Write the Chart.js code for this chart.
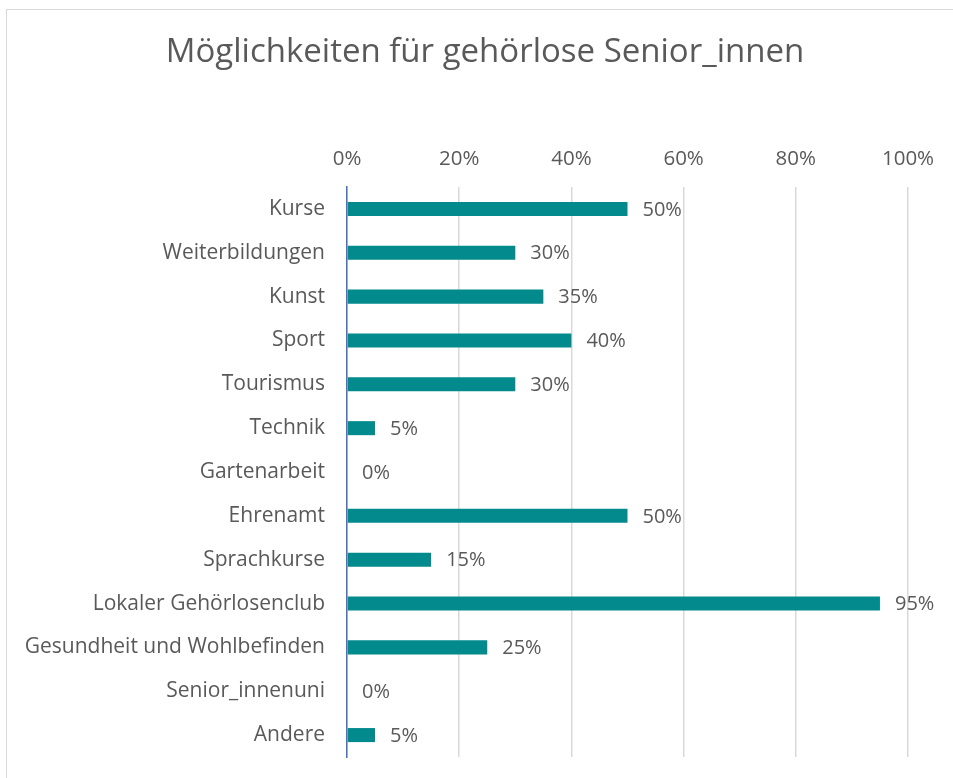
<!DOCTYPE html>
<html>
<head>
<meta charset="utf-8">
<script src="https://cdn.jsdelivr.net/npm/chart.js@4"></script>
<style>
  html, body { margin: 0; padding: 0; background: #fff; overflow: hidden; }
  #frame { position: absolute; left: 6px; top: 9px; width: 1000px; height: 900px; border: 1.5px solid #d9d9d9; box-sizing: border-box; }
  #wrap { position: absolute; left: 0; top: 0; width: 953px; height: 778px; }
</style>
</head>
<body>
<div id="frame"></div>
<div id="wrap"><canvas id="c" width="953" height="778"></canvas></div>
<script>
const categories = ["Kurse", "Weiterbildungen", "Kunst", "Sport", "Tourismus", "Technik", "Gartenarbeit", "Ehrenamt", "Sprachkurse", "Lokaler Gehörlosenclub", "Gesundheit und Wohlbefinden", "Senior_innenuni", "Andere"];
const values = [50, 30, 35, 40, 30, 5, 0, 50, 15, 95, 25, 0, 5];
const tickValues = [0, 20, 40, 60, 80, 100];
const titleText = "Möglichkeiten für gehörlose Senior_innen";

const FONT = "'Open Sans', Lato, sans-serif";
const TEXT = "#595959";

const labelPlugin = {
  id: 'valueLabels',
  afterDatasetsDraw(chart) {
    const ctx = chart.ctx;
    const meta = chart.getDatasetMeta(0);
    ctx.save();
    ctx.font = "20px " + FONT;
    ctx.fillStyle = TEXT;
    ctx.textAlign = "left";
    ctx.textBaseline = "middle";
    meta.data.forEach((bar, i) => {
      ctx.fillText(values[i] + "%", bar.x + 15, bar.y + 1);
    });
    ctx.restore();
  }
};

const titlePlugin = {
  id: 'centeredTitle',
  afterDraw(chart) {
    const ctx = chart.ctx;
    ctx.save();
    ctx.font = "33px " + FONT;
    ctx.fillStyle = TEXT;
    ctx.textAlign = "center";
    ctx.textBaseline = "middle";
    ctx.fillText(titleText, 485, 53);
    ctx.restore();
  }
};

new Chart(document.getElementById('c'), {
  type: 'bar',
  data: {
    labels: categories,
    datasets: [{
      data: values,
      backgroundColor: '#038a8c',
      borderWidth: 0,
      barPercentage: 0.64,
      categoryPercentage: 0.5
    }]
  },
  options: {
    indexAxis: 'y',
    responsive: false,
    animation: false,
    layout: { padding: { left: 0, right: 45, top: 0, bottom: 21 } },
    plugins: {
      legend: { display: false },
      tooltip: { enabled: false },
      title: { display: false }
    },
    scales: {
      x: {
        position: 'top',
        min: 0,
        max: 100,
        afterBuildTicks(scale) { scale.ticks = tickValues.map(v => ({ value: v })); },
        afterFit(scale) { scale.height = 187; },
        ticks: {
          color: TEXT,
          font: { family: FONT, size: 20.5 },
          padding: 16,
          callback: v => v + '%'
        },
        grid: { color: '#d9d9d9', lineWidth: 1.5, drawTicks: false },
        border: { display: false }
      },
      y: {
        afterFit(scale) { scale.width = 347; scale.paddingTop = 0; scale.paddingBottom = 0; },
        ticks: {
          color: TEXT,
          font: { family: FONT, size: 21 },
          padding: 22
        },
        grid: { display: false, drawTicks: false },
        border: { display: true, color: '#4472c4', width: 1.5 }
      }
    }
  },
  plugins: [labelPlugin, titlePlugin]
});
</script>
</body>
</html>
